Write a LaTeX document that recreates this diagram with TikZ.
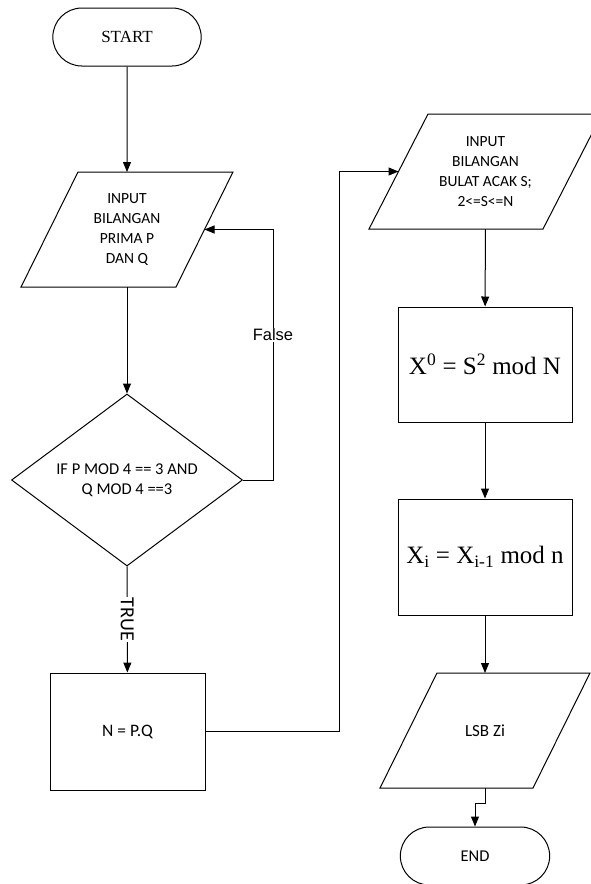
\documentclass[tikz,border=0pt]{standalone}
\usepackage{fontspec}
\setmainfont{Liberation Serif}
\newfontfamily\carlito{Carlito}
\newfontfamily\arialfont{Liberation Sans}
\usepackage{tikz}
\usetikzlibrary{shapes.geometric,shapes.misc,arrows.meta}

\begin{document}
\begin{tikzpicture}[x=1pt,y=-1pt,
		terminal/.style={draw, line width=1pt, rounded rectangle, minimum width=155pt, minimum height=58pt},
		%% parallelogram drawn round an invisible box
		io/.style={rectangle, outer sep=0pt, minimum height=115pt, align=center,
			font=\carlito\fontsize{15.5}{20}\selectfont,
			append after command={\pgfextra{\let\ionode=\tikzlastnode
				\draw[line width=1pt] ([xshift=#1]\ionode.north west) -- ([xshift=#1]\ionode.north east)
					-- ([xshift=-#1]\ionode.south east) -- ([xshift=-#1]\ionode.south west) -- cycle;}}},
		decision/.style={draw, line width=1pt, diamond, aspect=1.34, minimum width=231pt, minimum height=172pt,
			inner sep=0pt, align=center, font=\carlito\fontsize{16.5}{20}\selectfont},
		process/.style={draw, line width=1pt, rectangle, minimum width=174pt, minimum height=115pt},
		flow/.style={line width=1pt, -{Triangle[length=10pt,width=8pt]}},
		lbl/.style={fill=white, inner sep=1pt}]
		\useasboundingbox (0,0) rectangle (590,884);

		%% Left column
		\node[terminal, font=\fontsize{17}{20}\selectfont] (start) at (127,37) {START};
		\node[io=28.5pt, minimum width=155pt] (inpq) at (127,229.5) {INPUT\\BILANGAN\\PRIMA P\\DAN Q};
		\node[decision] (cek) at (127,480) {IF P MOD 4 == 3 AND\\Q MOD 4 ==3};
		\node[process, minimum width=155pt, minimum height=117pt, font=\carlito\fontsize{17.5}{20}\selectfont]
			(hitn) at (127.5,731.5) {N = P.Q};

		%% Right column
		\node[io=29.5pt, minimum width=174pt] (inps) at (485.5,171.5) {INPUT\\BILANGAN\\BULAT ACAK S;\\2<=S<=N};
		\node[process, font=\fontsize{25}{28}\selectfont] (xnol) at (485,364.5)
			{X\textsuperscript{0} = S\textsuperscript{2} mod N};
		\node[process, minimum height=116pt, font=\fontsize{25}{28}\selectfont] (xi) at (485,557)
			{X\textsubscript{i} = X\textsubscript{i-1} mod n};
		\node[io=28.5pt, minimum width=153pt, font=\carlito\fontsize{17}{20}\selectfont] (lsb) at (485,730.5) {LSB Zi};
		\node[terminal, minimum width=156pt, font=\carlito\fontsize{16.5}{20}\selectfont] (stop) at (475,856) {END};

		% connectors
		\draw[flow] (start) -- (inpq);
		\draw[flow] (inpq) -- (cek);
		\draw[flow] (cek.east) -- ++(30,0) |- node[pos=0.29, lbl, font=\arialfont\fontsize{16.5}{20}\selectfont] {False} (inpq.east);
		\draw[flow] (cek) -- node[lbl, rotate=-90, font=\carlito\fontsize{20}{22}\selectfont] {TRUE} (hitn);
		\draw[flow] (hitn.east) -- ++(134,0) |- (inps.west);
		\draw[flow] (inps) -- (xnol);
		\draw[flow] (xnol) -- (xi);
		\draw[flow] (xi) -- (lsb);
		\draw[flow] (lsb.south) -- ++(0,15) -| (stop.north);
	\end{tikzpicture}
\end{document}
